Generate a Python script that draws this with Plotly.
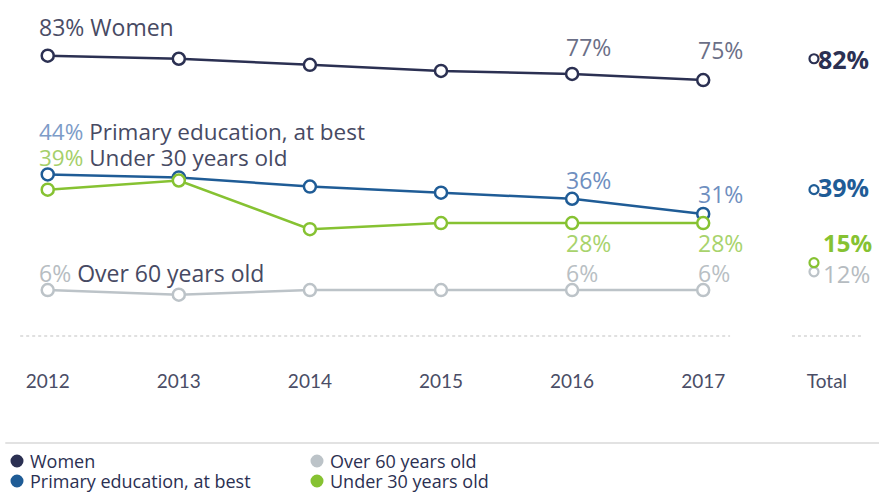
import plotly.graph_objects as go

# ---- data ----
years = [2012, 2013, 2014, 2015, 2016, 2017]
women = [83, 82, 80, 78, 77, 75]
primary = [44, 43, 40, 38, 36, 31]
under30 = [39, 42, 26, 28, 28, 28]
over60 = [6, 4.5, 6, 6, 6, 6]

totals = {"Women": 82, "Primary education, at best": 39,
          "Under 30 years old": 15, "Over 60 years old": 12}

tick_labels = ["2012", "2013", "2014", "2015", "2016", "2017", "Total"]

# ---- styling ----
FONT = "Open Sans"
TICK_FONT = "Lato"
NAVY = "#2b3052"
BLUE = "#1f5c96"
GREEN = "#86c232"
GREY = "#bcc3c8"
TEXT = "#474a63"

PLOT_H = 368          # height of the plotting area in px (top margin 0)
W = 879

xs = list(range(len(years)))
X_TOTAL = 5.845
X_TOTAL_TICK = 5.944

fig = go.Figure()

series = [
    ("Women", women, NAVY),
    ("Primary education, at best", primary, BLUE),
    ("Over 60 years old", over60, GREY),
    ("Under 30 years old", under30, GREEN),
]

for name, vals, col in series:
    fig.add_trace(go.Scatter(
        x=xs, y=vals, mode="lines+markers", name=name, showlegend=False,
        line=dict(color=col, width=2.5),
        marker=dict(symbol="circle", size=12, color="white",
                    line=dict(color=col, width=2.5)),
        hoverinfo="skip",
    ))
    # total marker
    fig.add_trace(go.Scatter(
        x=[X_TOTAL], y=[totals[name]], mode="markers", showlegend=False,
        marker=dict(symbol="circle", size=9, color="white",
                    line=dict(color=col, width=2.2)),
        hoverinfo="skip",
    ))

ann = []


def label(x, y, text, color, size=23, xshift=0, yshift=0, bold=False):
    t = f"<b>{text}</b>" if bold else text
    ann.append(dict(x=x, y=y, xref="x", yref="y", text=t, showarrow=False,
                    xanchor="left", yanchor="middle", xshift=xshift, yshift=yshift,
                    borderpad=0,
                    font=dict(family=FONT, size=size, color=color)))


# series headings at the start
label(0, women[0], f"<span style='color:#4a4d66'>{women[0]}%</span> Women", TEXT, xshift=-10, yshift=29)
label(0, primary[0], f"<span style='color:#7d9cc8'>{primary[0]}%</span> Primary education, at best",
      TEXT, size=22.5, xshift=-10, yshift=43)
label(0, under30[0], f"<span style='color:#a5cf6a'>{under30[0]}%</span> Under 30 years old",
      TEXT, size=22.5, xshift=-10, yshift=32)
label(0, over60[0], f"<span style='color:#b7bdc2'>{over60[0]}%</span> Over 60 years old",
      TEXT, xshift=-10, yshift=17)

# value labels for the last two years
label(4, women[4], f"{women[4]}%", "#6b6f87", xshift=-7, yshift=27)
label(5, women[5], f"{women[5]}%", "#6b6f87", xshift=-6, yshift=30)
label(4, primary[4], f"{primary[4]}%", "#6f8fbf", xshift=-7, yshift=19)
label(5, primary[5], f"{primary[5]}%", "#6f8fbf", xshift=-6, yshift=20)
label(4, under30[4], f"{under30[4]}%", "#a8d36c", xshift=-7, yshift=-20)
label(5, under30[5], f"{under30[5]}%", "#a8d36c", xshift=-6, yshift=-20)
label(4, over60[4], f"{over60[4]:g}%", "#b9bfc4", xshift=-7, yshift=17.5)
label(5, over60[5], f"{over60[5]:g}%", "#b9bfc4", xshift=-6, yshift=17.5)

# totals
label(X_TOTAL, totals["Women"], f"{totals['Women']}%", NAVY, size=25, xshift=3, bold=True)
label(X_TOTAL, totals["Primary education, at best"], f"{totals['Primary education, at best']}%",
      BLUE, size=25, xshift=3, yshift=2.5, bold=True)
label(X_TOTAL, totals["Under 30 years old"], f"{totals['Under 30 years old']}%",
      GREEN, size=24, xshift=8, yshift=20, bold=True)
label(X_TOTAL, totals["Over 60 years old"], f"{totals['Over 60 years old']}%",
      "#b6bcc1", size=24, xshift=8, yshift=-2)


def py(pixel_y):
    """Paper y for a pixel row measured from the top of the figure."""
    return 1 - pixel_y / PLOT_H


shapes = [
    # dotted baseline under the years and the total column
    dict(type="line", xref="x", yref="y", x0=-0.21, x1=5.205, y0=-9.1, y1=-9.1,
         line=dict(color="#d6d6d6", width=1.5, dash="dot")),
    dict(type="line", xref="x", yref="y", x0=5.677, x1=6.21, y0=-9.1, y1=-9.1,
         line=dict(color="#d6d6d6", width=1.5, dash="dot")),
    # separator above the key
    dict(type="line", xref="paper", yref="paper", x0=0.006, x1=1.0,
         y0=py(443), y1=py(443), line=dict(color="#e2e2e2", width=2)),
]

# key: 2 x 2 grid of filled dots with names
key = [("Women", NAVY, 17, 461), ("Primary education, at best", BLUE, 17, 481),
       ("Over 60 years old", GREY, 317, 461), ("Under 30 years old", GREEN, 317, 481)]
for name, col, kx, ky in key:
    shapes.append(dict(type="circle", xref="paper", yref="paper",
                       xsizemode="pixel", ysizemode="pixel",
                       xanchor=kx / W, yanchor=py(ky),
                       x0=-6.5, x1=6.5, y0=-6.5, y1=6.5,
                       fillcolor=col, line=dict(width=0)))
    ann.append(dict(x=(kx + 12) / W, y=py(ky), xref="paper", yref="paper",
                    xanchor="left", yanchor="middle", showarrow=False, text=name,
                    borderpad=0,
                    font=dict(family=FONT, size=18, color=NAVY)))

fig.update_layout(
    width=W, height=493,
    margin=dict(l=0, r=0, t=0, b=493 - PLOT_H),
    paper_bgcolor="white", plot_bgcolor="white",
    font=dict(family=FONT, color=TEXT),
    annotations=ann, shapes=shapes,
    xaxis=dict(range=[-0.364, 6.341], showgrid=False, zeroline=False, showline=False,
               tickvals=xs + [X_TOTAL_TICK], ticktext=tick_labels, ticks="",
               automargin=False,
               tickfont=dict(family=TICK_FONT, size=19, color="#4a4d66")),
    yaxis=dict(range=[-19.6, 101.3], visible=False),
    showlegend=False,
)

fig.write_html("out.html")
